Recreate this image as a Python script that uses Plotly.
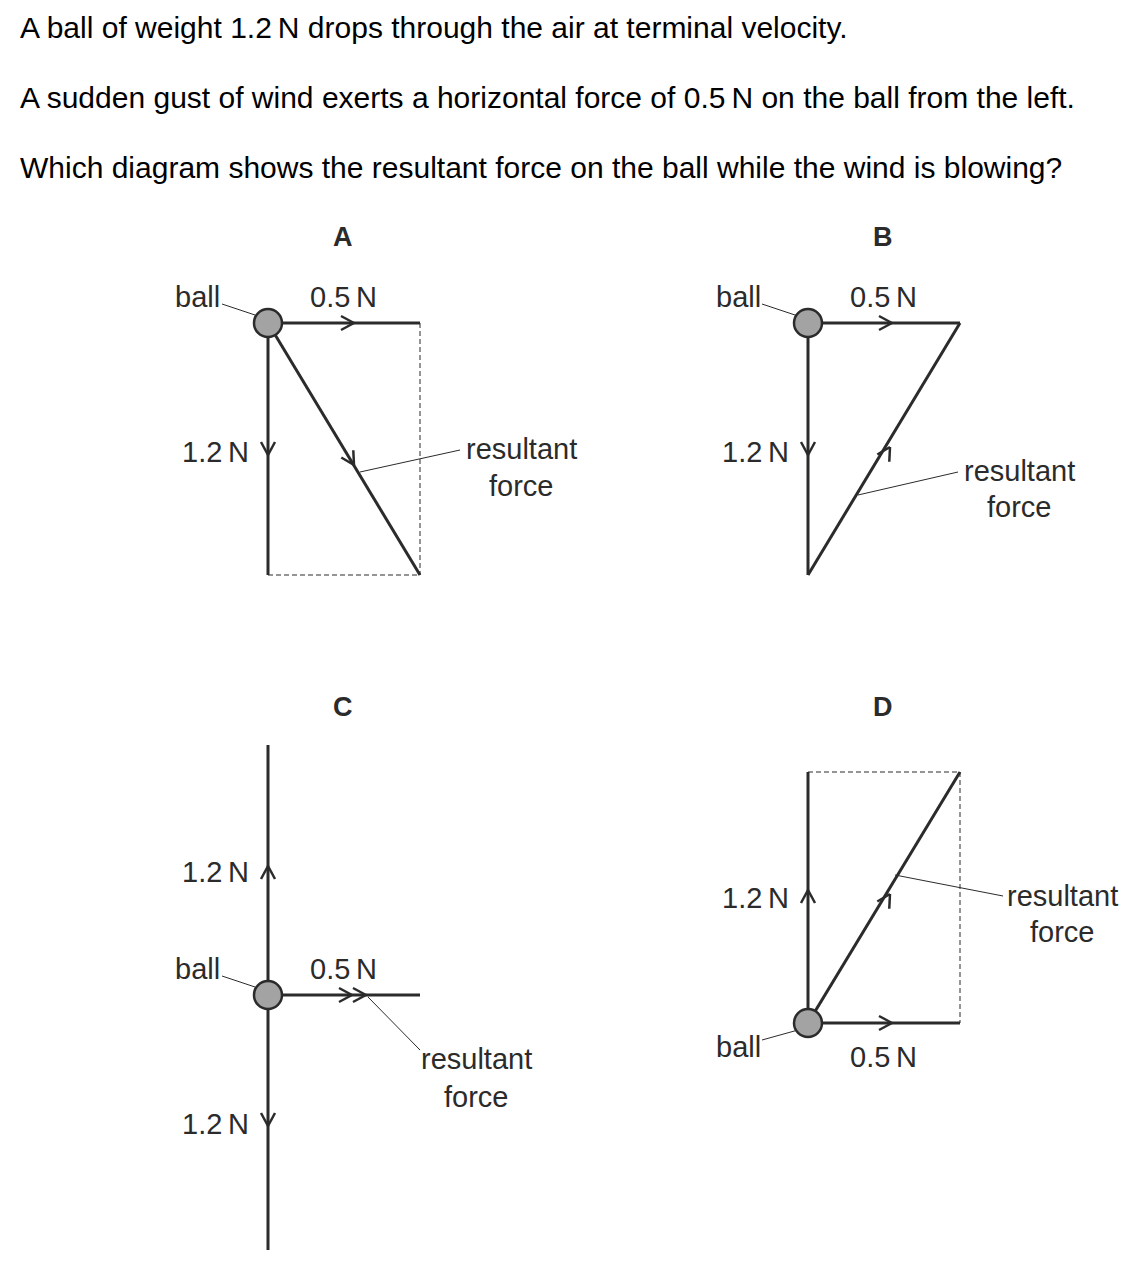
import numpy as np
import plotly.graph_objects as go

W, H = 1140, 1273
OFF = 8  # page body margin
INK = "#2b2b2b"
FONT = "Liberation Sans, Arial, sans-serif"

question = [
    "A ball of weight 1.2\u2009N drops through the air at terminal velocity.",
    "A sudden gust of wind exerts a horizontal force of 0.5\u2009N on the ball from the left.",
    "Which diagram shows the resultant force on the ball while the wind is blowing?",
]
question_y = [27, 97, 167]

# diagram geometry (pixel space, y downward)
solid_lines = [
    # A
    (268, 323, 420, 323), (268, 323, 268, 575), (268, 323, 420, 575),
    # B
    (808, 323, 960, 323), (808, 323, 808, 575), (808, 575, 960, 323),
    # C
    (268, 745, 268, 1250), (268, 995, 420, 995),
    # D
    (808, 1023, 808, 772), (808, 1023, 960, 1023), (808, 1023, 960, 772),
]
dashed_lines = [
    (420, 323, 420, 575), (268, 575, 420, 575),
    (808, 772, 960, 772), (960, 772, 960, 1023),
]
leaders = [
    (222, 304, 258, 316), (360, 472, 460, 450),
    (762, 304, 798, 316), (858, 495, 958, 472),
    (222, 976, 258, 988), (368, 997, 420, 1050),
    (762, 1040, 798, 1030), (895, 875, 1003, 896),
]
# arrowheads: tip x, tip y, direction x, direction y
arrows = [
    (354, 323, 1, 0), (268, 455, 0, 1), (354, 465, 152, 252),
    (892, 323, 1, 0), (808, 455, 0, 1), (890, 447, 152, -252),
    (268, 866, 0, -1), (268, 1126, 0, 1), (352, 995, 1, 0), (366, 995, 1, 0),
    (808, 890, 0, -1), (892, 1023, 1, 0), (890, 894, 152, -251),
]
balls = [(268, 323), (808, 323), (268, 995), (808, 1023)]

labels = [
    ("A", 343, 237, True), ("B", 883, 237, True), ("C", 343, 707, True), ("D", 883, 707, True),
    ("ball", 197, 297, False), ("0.5\u2009N", 343, 297, False), ("1.2\u2009N", 215, 452, False),
    ("resultant", 521, 449, False), ("force", 521, 486, False),
    ("ball", 738, 297, False), ("0.5\u2009N", 883, 297, False), ("1.2\u2009N", 755, 452, False),
    ("resultant", 1019, 471, False), ("force", 1019, 507, False),
    ("1.2\u2009N", 215, 872, False), ("ball", 197, 969, False), ("0.5\u2009N", 343, 969, False),
    ("1.2\u2009N", 215, 1124, False), ("resultant", 476, 1059, False), ("force", 476, 1097, False),
    ("1.2\u2009N", 755, 898, False), ("ball", 738, 1047, False), ("0.5\u2009N", 883, 1057, False),
    ("resultant", 1062, 896, False), ("force", 1062, 932, False),
]

shapes = []
for x0, y0, x1, y1 in solid_lines:
    shapes.append(dict(type="line", x0=x0, y0=y0, x1=x1, y1=y1, line=dict(color=INK, width=3)))
for x0, y0, x1, y1 in dashed_lines:
    shapes.append(dict(type="line", x0=x0, y0=y0, x1=x1, y1=y1, line=dict(color=INK, width=1, dash="5px,3px")))
for x0, y0, x1, y1 in leaders:
    shapes.append(dict(type="line", x0=x0, y0=y0, x1=x1, y1=y1, line=dict(color=INK, width=1)))
for tx, ty, dx, dy in arrows:
    d = np.array([dx, dy], float)
    d /= np.linalg.norm(d)
    n = np.array([-d[1], d[0]])
    for s in (1, -1):
        p = np.array([tx, ty]) - 13 * d + s * 7 * n
        shapes.append(dict(type="line", x0=tx, y0=ty, x1=p[0], y1=p[1], line=dict(color=INK, width=2.5)))
for bx, by in balls:
    shapes.append(dict(type="circle", x0=bx - 14, y0=by - 14, x1=bx + 14, y1=by + 14,
                       fillcolor="#a3a3a3", line=dict(color=INK, width=2.5)))

annotations = []
for txt, y in zip(question, question_y):
    annotations.append(dict(x=18, y=y, text=txt, xanchor="left", yanchor="middle", showarrow=False,
                            font=dict(family=FONT, size=30, color="black")))
for txt, x, y, bold in labels:
    annotations.append(dict(x=x, y=y, text=f"<b>{txt}</b>" if bold else txt, xanchor="center",
                            yanchor="middle", showarrow=False,
                            font=dict(family=FONT, size=29 if not bold else 27, color=INK)))

fig = go.Figure()
fig.update_layout(
    width=W, height=H, margin=dict(l=0, r=0, t=0, b=0),
    paper_bgcolor="white", plot_bgcolor="white",
    xaxis=dict(range=[OFF, W + OFF], visible=False, fixedrange=True),
    yaxis=dict(range=[H + OFF, OFF], visible=False, fixedrange=True),
    shapes=shapes, annotations=annotations, showlegend=False,
)
fig.write_html("out.html")
